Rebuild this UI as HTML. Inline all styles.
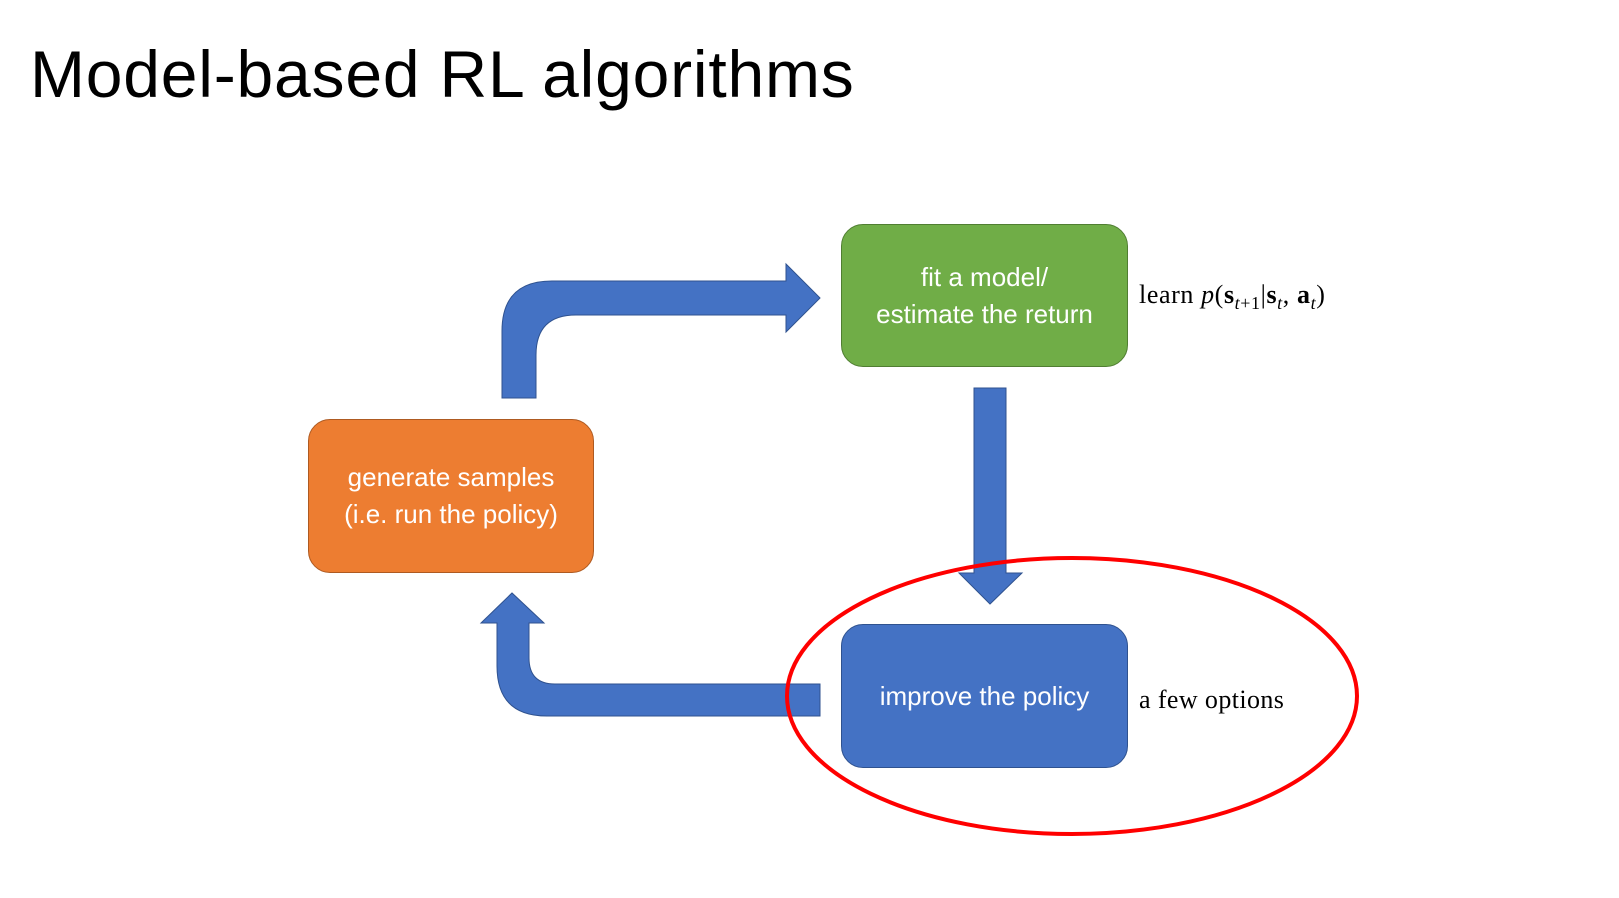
<!DOCTYPE html>
<html><head><meta charset="utf-8"><style>
body{margin:0;width:1619px;height:898px;background:#fff;overflow:hidden;position:relative;font-family:"Liberation Sans",sans-serif}
.t{position:absolute;left:30px;top:36px;font-size:66px;color:#000;letter-spacing:0.8px}
.box{position:absolute;border-radius:22px;color:#fff;font-size:26px;display:flex;align-items:center;justify-content:center;text-align:center;line-height:37px;box-sizing:border-box}
.m{position:absolute;font-family:"Liberation Serif",serif;font-size:26px;color:#000}
</style></head><body>
<div class="t">Model-based RL algorithms</div>
<svg width="1619" height="898" style="position:absolute;left:0;top:0">
<path d="M502,398 L502,331 Q502,281 552,281 L786,281 L786,264 L820,298 L786,332 L786,315 L576,315 Q536,315 536,355 L536,398 Z" fill="#4472c4" stroke="#2f528f" stroke-width="1"/>
<path d="M974,388 L1006,388 L1006,573 L1022,573 L990,604 L959,573 L974,573 Z" fill="#4472c4" stroke="#2f528f" stroke-width="1"/>
<path d="M820,684 L555,684 Q529,684 529,658 L529,623 L544,623 L512,593 L481,623 L497,623 L497,666 Q497,716 547,716 L820,716 Z" fill="#4472c4" stroke="#2f528f" stroke-width="1"/>
</svg>
<div class="box" style="left:841px;top:224px;width:287px;height:143px;background:#70ad47;border:1.5px solid #507e32">fit a model/<br>estimate the return</div>
<div class="box" style="left:308px;top:419px;width:286px;height:154px;background:#ed7d31;border:1.5px solid #ae5a21">generate samples<br>(i.e. run the policy)</div>
<div class="box" style="left:841px;top:624px;width:287px;height:144px;background:#4472c4;border:1.5px solid #2f528f">improve the policy</div>
<svg width="1619" height="898" style="position:absolute;left:0;top:0">
<ellipse cx="1072" cy="696" rx="285" ry="138" fill="none" stroke="#f00" stroke-width="4"/>
</svg>
<div class="m" style="left:1139px;top:280px;letter-spacing:0.6px">learn <i>p</i>(<b>s</b><sub style="font-size:18px"><i>t</i>+1</sub>|<b>s</b><sub style="font-size:18px"><i>t</i></sub>, <b>a</b><sub style="font-size:18px"><i>t</i></sub>)</div>
<div class="m" style="left:1139px;top:685px;letter-spacing:0.4px">a few options</div>
</body></html>
